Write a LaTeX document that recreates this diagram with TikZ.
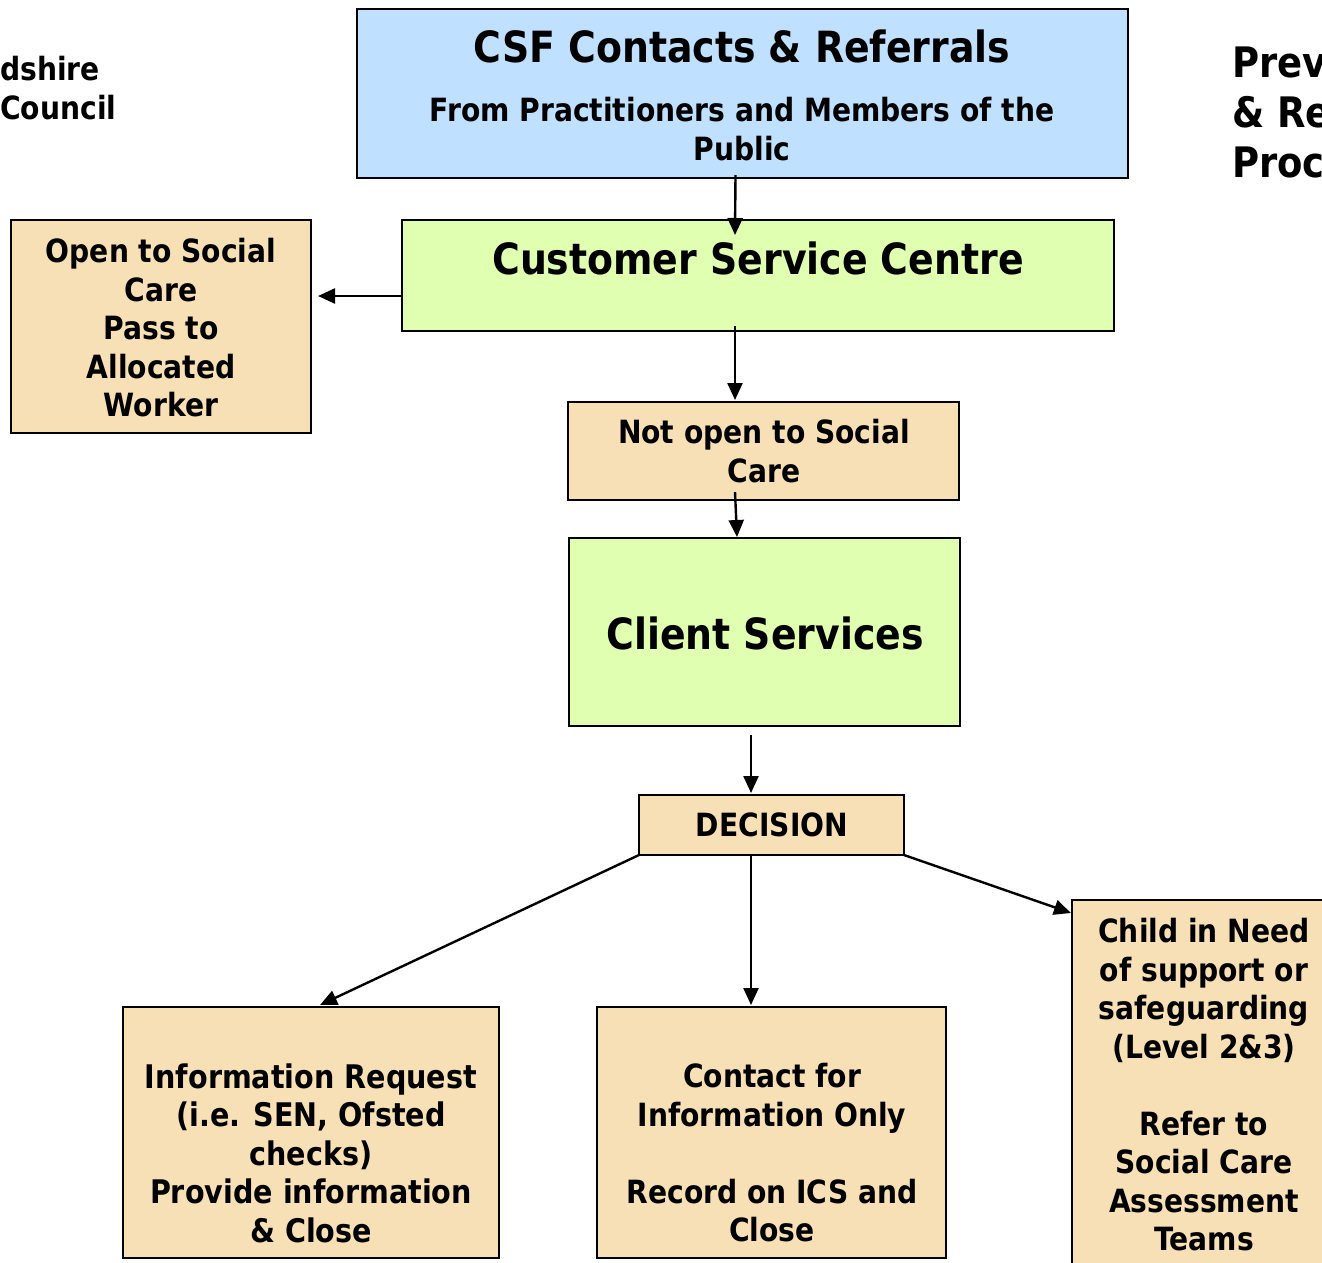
\documentclass[tikz,border=0pt]{standalone}
\usepackage{fontspec}
\usetikzlibrary{arrows.meta}
\newfontfamily\tah{DejaVu Sans}[FakeStretch=0.88,BoldFeatures={FakeStretch=0.88}]
\definecolor{csfblue}{HTML}{C0E0FF}
\definecolor{lime}{HTML}{E0FFB0}
\definecolor{wheatbox}{HTML}{F7E0B5}
\newcommand{\fs}[2]{\fontsize{#1}{#2}\selectfont}
\tikzset{
  box/.style={draw=black, line width=2.2pt, inner sep=0pt, outer sep=0pt},
  lbl/.style={align=center, inner sep=0pt, font=\tah\bfseries},
  arr/.style={line width=2.4pt, -{Triangle[length=17pt,width=15pt]}},
}
\begin{document}
\begin{tikzpicture}[x=1pt,y=-1pt]
\useasboundingbox (0,0) rectangle (1322,1262);
\fill[white] (0,0) rectangle (1322,1262);

% boxes
\node[box, fill=csfblue, minimum width=771pt, minimum height=169pt, anchor=north west] (csf) at (357,9) {};
\node[box, fill=lime, minimum width=712pt, minimum height=111pt, anchor=north west] (csc) at (402,220) {};
\node[box, fill=wheatbox, minimum width=300pt, minimum height=213pt, anchor=north west] (open) at (11,220) {};
\node[box, fill=wheatbox, minimum width=391pt, minimum height=98pt, anchor=north west] (notopen) at (568,402) {};
\node[box, fill=lime, minimum width=391pt, minimum height=188pt, anchor=north west] (client) at (569,538) {};
\node[box, fill=wheatbox, minimum width=265pt, minimum height=60pt, anchor=north west] (decision) at (639,795) {};
\node[box, fill=wheatbox, minimum width=376pt, minimum height=251pt, anchor=north west] (info) at (123,1007) {};
\node[box, fill=wheatbox, minimum width=349pt, minimum height=251pt, anchor=north west] (contact) at (597,1007) {};
\node[box, fill=wheatbox, minimum width=280pt, minimum height=390pt, anchor=north west] (child) at (1072,900) {};

% texts
\node[lbl, font=\tah\bfseries\fs{43}{50}] (t1) at (742,46) {CSF Contacts \& Referrals};
\node[lbl, font=\tah\bfseries\fs{32}{38.5}] (t2) at (742,129) {From Practitioners and Members of the\\Public};
\node[lbl, font=\tah\bfseries\fs{43}{50}] (t3) at (758,258) {Customer Service Centre};
\node[lbl, font=\tah\bfseries\fs{32}{38.5}] (t4) at (161,328) {Open to Social\\Care\\Pass to\\Allocated\\Worker};
\node[lbl, font=\tah\bfseries\fs{32}{38.5}] (t5) at (764,451) {Not open to Social\\Care};
\node[lbl, font=\tah\bfseries\fs{43}{50}] (t6) at (765,633) {Client Services};
\node[lbl, font=\tah\bfseries\fs{32}{38.5}] (t7) at (772,825) {DECISION};
\node[lbl, font=\tah\bfseries\fs{32.5}{38.5}] (t8) at (311,1153) {Information Request\\(i.e. SEN, Ofsted\\checks)\\Provide information\\\& Close};
\node[lbl, font=\tah\bfseries\fs{32}{38.5}] (t9) at (772,1153) {Contact for\\Information Only\\[38.5pt]Record on ICS and\\Close};
\node[lbl, font=\tah\bfseries\fs{32}{38.5}] (t10) at (1204,1085) {Child in Need\\of support or\\safeguarding\\(Level 2\&3)\\[38.5pt]Refer to\\Social Care\\Assessment\\Teams};
\node[lbl, align=left, anchor=west, font=\tah\bfseries\fs{32}{39}] (t11) at (0,88) {dshire\\Council};
\node[lbl, align=left, anchor=west, font=\tah\bfseries\fs{42}{50}] (t12) at (1232,112) {Prev\\\& Re\\Proc};

% connectors
\draw[arr] ([xshift=-7pt,yshift=3pt]csf.south) -- ([xshift=-23pt,yshift=-15pt]csc.north);
\draw[arr] ([yshift=-20.5pt]csc.west) -- ([xshift=7pt,yshift=30.5pt]open.east);
\draw[arr] ([xshift=-23pt,yshift=5pt]csc.south) -- ([xshift=-28.5pt,yshift=2pt]notopen.north);
\draw[arr] ([xshift=-28.5pt,yshift=8pt]notopen.south) -- ([xshift=-27.5pt,yshift=1pt]client.north);
\draw[arr] ([xshift=-13.5pt,yshift=-9pt]client.south) -- ([xshift=-20.5pt,yshift=2pt]decision.north);
\draw[arr] (decision.south west) -- ([xshift=9pt,yshift=2pt]info.north);
\draw[arr] ([xshift=-20.5pt]decision.south) -- ([xshift=-20.5pt,yshift=2pt]contact.north);
\draw[arr] (decision.south east) -- ([xshift=-1pt,yshift=-13pt]child.north west);
\end{tikzpicture}
\end{document}
